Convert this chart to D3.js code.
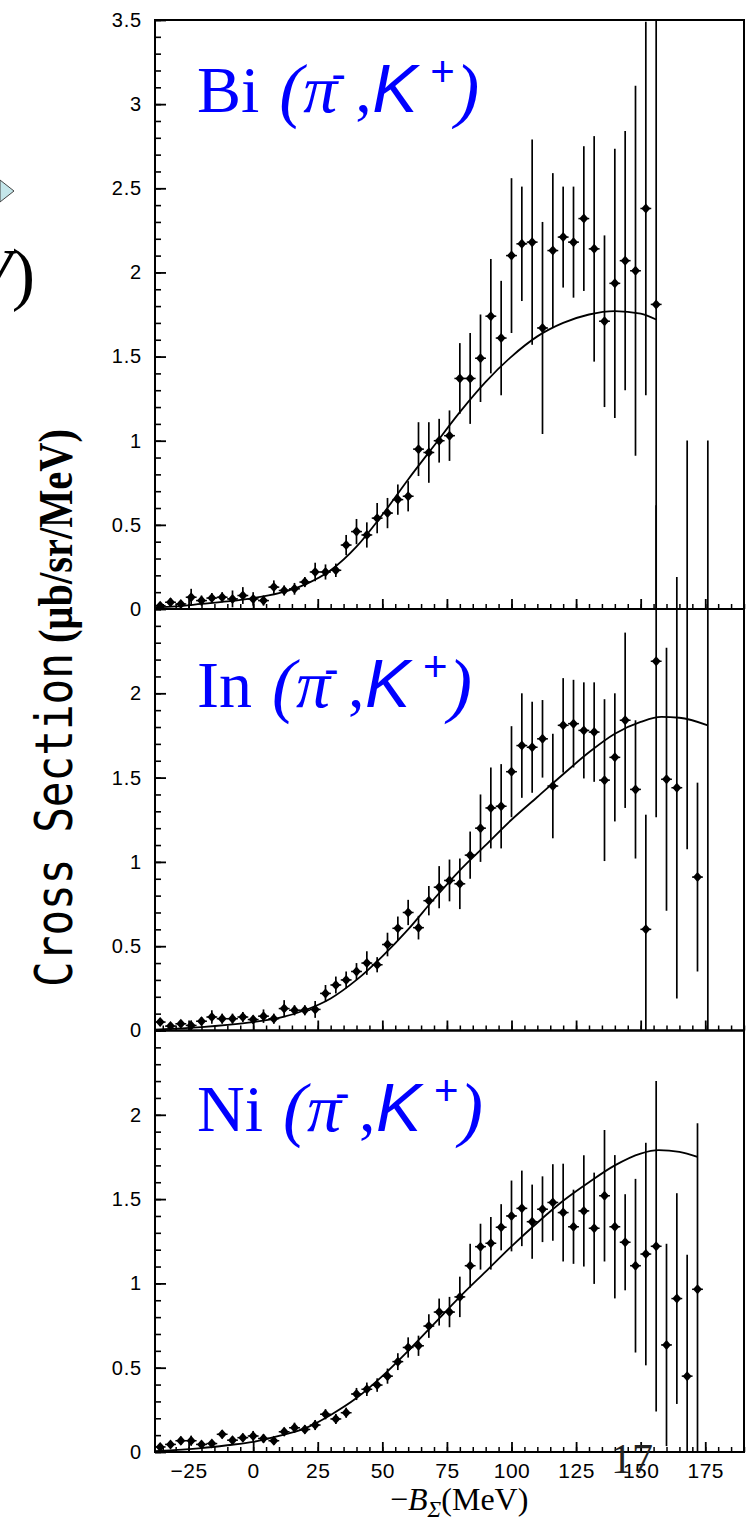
<!DOCTYPE html>
<html>
<head>
<meta charset="utf-8">
<script src="https://cdn.jsdelivr.net/npm/d3@7"></script>
<style>
  html, body { margin: 0; padding: 0; background: #fff; }
  svg { display: block; }
</style>
</head>
<body>
<svg id="chart" width="751" height="1521"></svg>
<script>
// ---- Bi(pi-,K+) spectrum ----
const biEnergy = [-36,-32,-28,-24,-20,-16,-12,-8,-4,0,4,8,12,16,20,24,28,32,36,40,44,48,52,56,60,64,68,72,76,80,84,88,92,96,100,104,108,112,116,120,124,128,132,136,140,144,148,152,156];
const biValue  = [0.02,0.04,0.03,0.07,0.05,0.065,0.07,0.06,0.08,0.06,0.05,0.13,0.11,0.12,0.16,0.22,0.22,0.23,0.38,0.46,0.44,0.54,0.57,0.65,0.67,0.95,0.93,1.00,1.03,1.37,1.37,1.49,1.74,1.61,2.10,2.17,2.18,1.67,2.13,2.21,2.18,2.32,2.14,1.71,1.935,2.07,2.01,2.38,1.81];
const biError  = [0.02,0.025,0.02,0.05,0.03,0.03,0.03,0.05,0.05,0.04,0.03,0.04,0.03,0.035,0.03,0.055,0.045,0.04,0.06,0.075,0.075,0.09,0.09,0.09,0.09,0.16,0.18,0.13,0.15,0.21,0.27,0.26,0.34,0.34,0.46,0.34,0.61,0.63,0.46,0.30,0.33,0.43,0.67,0.51,0.80,0.77,1.10,1.11,1.90];
const biFitEnergy = [-38,-30,-20,-10,0,10,20,30,40,50,60,70,80,90,100,110,120,130,140,150,156];
const biFitValue  = [0.01,0.015,0.03,0.045,0.065,0.095,0.145,0.23,0.37,0.56,0.77,0.97,1.17,1.35,1.50,1.62,1.70,1.75,1.77,1.755,1.72];
const biTicks = [0,0.5,1,1.5,2,2.5,3,3.5];

// ---- In(pi-,K+) spectrum ----
const inEnergy = [-36,-32,-28,-24,-20,-16,-12,-8,-4,0,4,8,12,16,20,24,28,32,36,40,44,48,52,56,60,64,68,72,76,80,84,88,92,96,100,104,108,112,116,120,124,128,132,136,140,144,148,152,156,160,164,168,172,176];
const inValue  = [0.05,0.026,0.04,0.03,0.055,0.08,0.07,0.07,0.08,0.065,0.085,0.07,0.13,0.12,0.12,0.125,0.22,0.27,0.30,0.35,0.40,0.39,0.51,0.606,0.70,0.61,0.77,0.85,0.89,0.87,1.04,1.20,1.32,1.33,1.535,1.69,1.68,1.73,1.45,1.81,1.82,1.78,1.77,1.485,1.62,1.84,1.43,0.60,2.19,1.49,1.44,2.60,0.91,2.70];
const inError  = [0.024,0.016,0.02,0.03,0.024,0.04,0.03,0.03,0.03,0.024,0.04,0.03,0.05,0.03,0.03,0.05,0.05,0.05,0.05,0.05,0.07,0.045,0.07,0.07,0.075,0.07,0.087,0.125,0.124,0.15,0.14,0.20,0.24,0.25,0.27,0.31,0.27,0.23,0.31,0.28,0.26,0.285,0.295,0.48,0.38,0.52,0.41,0.68,0.925,0.78,1.25,1.525,0.56,2.80];
const inFitEnergy = [-38,-20,-10,0,10,20,30,40,50,60,70,80,90,100,110,120,130,140,150,158,165,176];
const inFitValue  = [0.005,0.02,0.033,0.05,0.075,0.12,0.19,0.30,0.44,0.60,0.78,0.95,1.10,1.25,1.385,1.52,1.65,1.76,1.83,1.86,1.855,1.81];
const inTicks = [0,0.5,1,1.5,2];

// ---- Ni(pi-,K+) spectrum ----
const niEnergy = [-36,-32,-28,-24,-20,-16,-12,-8,-4,0,4,8,12,16,20,24,28,32,36,40,44,48,52,56,60,64,68,72,76,80,84,88,92,96,100,104,108,112,116,120,124,128,132,136,140,144,148,152,156,160,164,168,172];
const niValue  = [0.03,0.045,0.067,0.067,0.045,0.05,0.105,0.07,0.085,0.095,0.08,0.067,0.12,0.144,0.134,0.16,0.224,0.196,0.233,0.344,0.372,0.397,0.45,0.536,0.62,0.63,0.747,0.83,0.83,0.92,1.105,1.218,1.238,1.333,1.40,1.445,1.366,1.44,1.48,1.42,1.336,1.43,1.327,1.52,1.336,1.244,1.105,1.174,1.22,0.635,0.91,0.45,0.965];
const niError  = [0.02,0.02,0.025,0.03,0.02,0.02,0.025,0.02,0.025,0.03,0.025,0.025,0.025,0.03,0.025,0.03,0.03,0.03,0.03,0.036,0.04,0.04,0.045,0.05,0.06,0.06,0.07,0.08,0.09,0.12,0.13,0.136,0.156,0.137,0.21,0.224,0.22,0.195,0.227,0.29,0.22,0.33,0.33,0.39,0.425,0.285,0.515,0.66,0.98,0.60,0.625,0.72,0.985];
const niFitEnergy = [-38,-20,-10,0,10,20,30,40,50,60,70,80,90,100,110,120,130,140,150,157,165,172];
const niFitValue  = [0.005,0.023,0.04,0.06,0.095,0.14,0.22,0.32,0.45,0.60,0.76,0.92,1.07,1.22,1.36,1.49,1.60,1.70,1.77,1.79,1.78,1.75];
const niTicks = [0,0.5,1,1.5,2];

// shared energy axis
const xTicks = [-25,0,25,50,75,100,125,150,175];
const xDomain = [-38,190];

const svg = d3.select("#chart");
const x = d3.scaleLinear().domain(xDomain).range([155, 744]);

// error bars are drawn up to this value in each panel's own units
const barCeiling = 3.5;

const panels = [
  { label: "Bi", E: biEnergy, v: biValue, e: biError, fE: biFitEnergy, fV: biFitValue, ticks: biTicks, yMax: 3.5, top: 20,    bottom: 609,    titleY: 112,  showX: false },
  { label: "In", E: inEnergy, v: inValue, e: inError, fE: inFitEnergy, fV: inFitValue, ticks: inTicks, yMax: 2.5, top: 609,   bottom: 1030.5, titleY: 707,  showX: false },
  { label: "Ni", E: niEnergy, v: niValue, e: niError, fE: niFitEnergy, fV: niFitValue, ticks: niTicks, yMax: 2.5, top: 1030.5, bottom: 1452,  titleY: 1131, showX: true }
];

const tickFont = "Liberation Sans, Arial, sans-serif";
const serif = "Liberation Serif, Times New Roman, serif";
const sans = "Liberation Sans, Arial, sans-serif";

// panels are drawn from bottom to top so upper frames sit on top of spilled bars
panels.slice().reverse().forEach(p => {
  const y = d3.scaleLinear().domain([0, p.yMax]).range([p.bottom, p.top]);
  const g = svg.append("g");

  // frame
  g.append("rect")
    .attr("x", x.range()[0]).attr("y", p.top)
    .attr("width", x.range()[1] - x.range()[0]).attr("height", p.bottom - p.top)
    .attr("fill", "none").attr("stroke", "#000").attr("stroke-width", 2);

  // y axis: minor and major ticks pointing into the frame
  const minor = d3.range(0, p.yMax + 1e-9, 0.1).map(d => +d.toFixed(2));
  g.append("g").attr("transform", `translate(${x.range()[0]},0)`)
    .call(d3.axisLeft(y).tickValues(minor).tickSizeInner(-6).tickSizeOuter(0).tickFormat(""))
    .call(s => s.select(".domain").remove())
    .call(s => s.selectAll("line").attr("stroke-width", 1.6));
  g.append("g").attr("transform", `translate(${x.range()[0]},0)`)
    .call(d3.axisLeft(y).tickValues(p.ticks).tickSizeInner(-11).tickSizeOuter(0).tickPadding(13).tickFormat(d3.format("~g")))
    .call(s => s.select(".domain").remove())
    .call(s => s.selectAll("line").attr("stroke-width", 1.8))
    .call(s => s.selectAll("text").style("font-family", tickFont).style("font-size", "20px")
      .style("letter-spacing", "0.8px").attr("fill", "#000"));

  // x axis: ticks pointing up from the panel floor
  const xMinor = d3.range(-35, 191, 5);
  g.append("g").attr("transform", `translate(0,${p.bottom})`)
    .call(d3.axisBottom(x).tickValues(xMinor).tickSizeInner(-5).tickSizeOuter(0).tickFormat(""))
    .call(s => s.select(".domain").remove())
    .call(s => s.selectAll("line").attr("stroke-width", 1.5));
  g.append("g").attr("transform", `translate(0,${p.bottom})`)
    .call(d3.axisBottom(x).tickValues(xTicks).tickSizeInner(-10).tickSizeOuter(0).tickPadding(11)
      .tickFormat(p.showX ? d3.format("d") : ""))
    .call(s => s.select(".domain").remove())
    .call(s => s.selectAll("line").attr("stroke-width", 1.8))
    .call(s => s.selectAll("text").style("font-family", tickFont).style("font-size", "21px")
      .style("letter-spacing", "0.5px").attr("fill", "#000"));

  // fitted curve
  const fit = p.fE.map((d, i) => ({ E: d, v: p.fV[i] }));
  g.append("path")
    .datum(fit)
    .attr("fill", "none").attr("stroke", "#000").attr("stroke-width", 1.8)
    .attr("d", d3.line().x(d => x(d.E)).y(d => y(d.v)).curve(d3.curveMonotoneX));

  // data with error bars (bars limited to [0, barCeiling])
  const pts = p.E.map((d, i) => ({ E: d, v: p.v[i], e: p.e[i] }));
  const clampV = v => Math.max(0, Math.min(barCeiling, v));
  g.append("g").selectAll("line").data(pts).join("line")
    .attr("x1", d => x(d.E)).attr("x2", d => x(d.E))
    .attr("y1", d => y(clampV(d.v - d.e))).attr("y2", d => y(clampV(d.v + d.e)))
    .attr("stroke", "#000").attr("stroke-width", 1.7);

  const shown = pts.filter(d => d.v >= 0 && d.v <= p.yMax);
  g.append("g").selectAll("line").data(shown).join("line")
    .attr("x1", d => x(d.E - 2.1)).attr("x2", d => x(d.E + 2.1))
    .attr("y1", d => y(d.v)).attr("y2", d => y(d.v))
    .attr("stroke", "#000").attr("stroke-width", 1.5);
  g.append("g").selectAll("path").data(shown).join("path")
    .attr("d", d => {
      const cx = x(d.E), cy = y(d.v);
      return `M${cx - 4.5},${cy}L${cx},${cy - 5}L${cx + 4.5},${cy}L${cx},${cy + 5}Z`;
    })
    .attr("fill", "#000");

  // reaction label, assembled piece by piece
  const tg = svg.append("g").attr("fill", "#0000ff");
  const base = p.titleY;
  const nucl = tg.append("text").attr("x", 197).attr("y", base)
    .style("font-family", serif).style("font-size", "66px").text(p.label);
  const x0 = 197 + nucl.node().getComputedTextLength() + 20;
  const piece = (dx, dy, txt, fam, size, italic) =>
    tg.append("text").attr("x", x0 + dx).attr("y", base + dy)
      .style("font-family", fam).style("font-size", size + "px")
      .style("font-style", italic ? "italic" : "normal").text(txt);
  piece(0, 2, "(", serif, 72, true);
  piece(24, 0, "π", serif, 68, true);
  piece(52, -23, "-", sans, 44, false);
  piece(76, 0, ",", serif, 66, false);
  piece(93, 0, "K", sans, 68, true);
  piece(151, -26, "+", sans, 42, false);
  piece(176, 2, ")", serif, 72, true);
});

// y-axis title, rotated
const yt = svg.append("g").attr("transform", "translate(72,987) rotate(-90)");
yt.append("text").attr("x", 0).attr("y", 0)
  .attr("textLength", 334).attr("lengthAdjust", "spacingAndGlyphs")
  .style("font-family", "DejaVu Sans Mono, monospace").style("font-size", "51px").attr("fill", "#000")
  .text("Cross Section");
yt.append("text").attr("x", 344).attr("y", 0)
  .attr("textLength", 214).attr("lengthAdjust", "spacingAndGlyphs")
  .style("font-family", serif).style("font-weight", "bold")
  .style("font-size", "48px").attr("fill", "#000")
  .text("(μb/sr/MeV)");

// x-axis title
const xt = svg.append("text").attr("x", 390).attr("y", 1510)
  .style("font-family", serif).style("font-size", "32px").attr("fill", "#000");
xt.append("tspan").text("−");
xt.append("tspan").style("font-style", "italic").text("B");
xt.append("tspan").style("font-style", "italic").style("font-size", "23px").attr("dy", 7).text("Σ");
xt.append("tspan").attr("dy", -7).text("(MeV)");

// page number of the slide
svg.append("text").attr("x", 611).attr("y", 1473)
  .style("font-family", serif).style("font-size", "42px").attr("fill", "#222")
  .text("17");

// edge of the neighbouring slide on the left
svg.append("polygon").attr("points", "0,180 14,191 0,202")
  .attr("fill", "#c4e6ea").attr("stroke", "#444").attr("stroke-width", 1);
svg.append("text").attr("x", 35).attr("y", 297).attr("text-anchor", "end")
  .style("font-family", serif).style("font-size", "70px").attr("fill", "#000")
  .html('<tspan font-style="italic">V</tspan>)');
</script>
</body>
</html>
